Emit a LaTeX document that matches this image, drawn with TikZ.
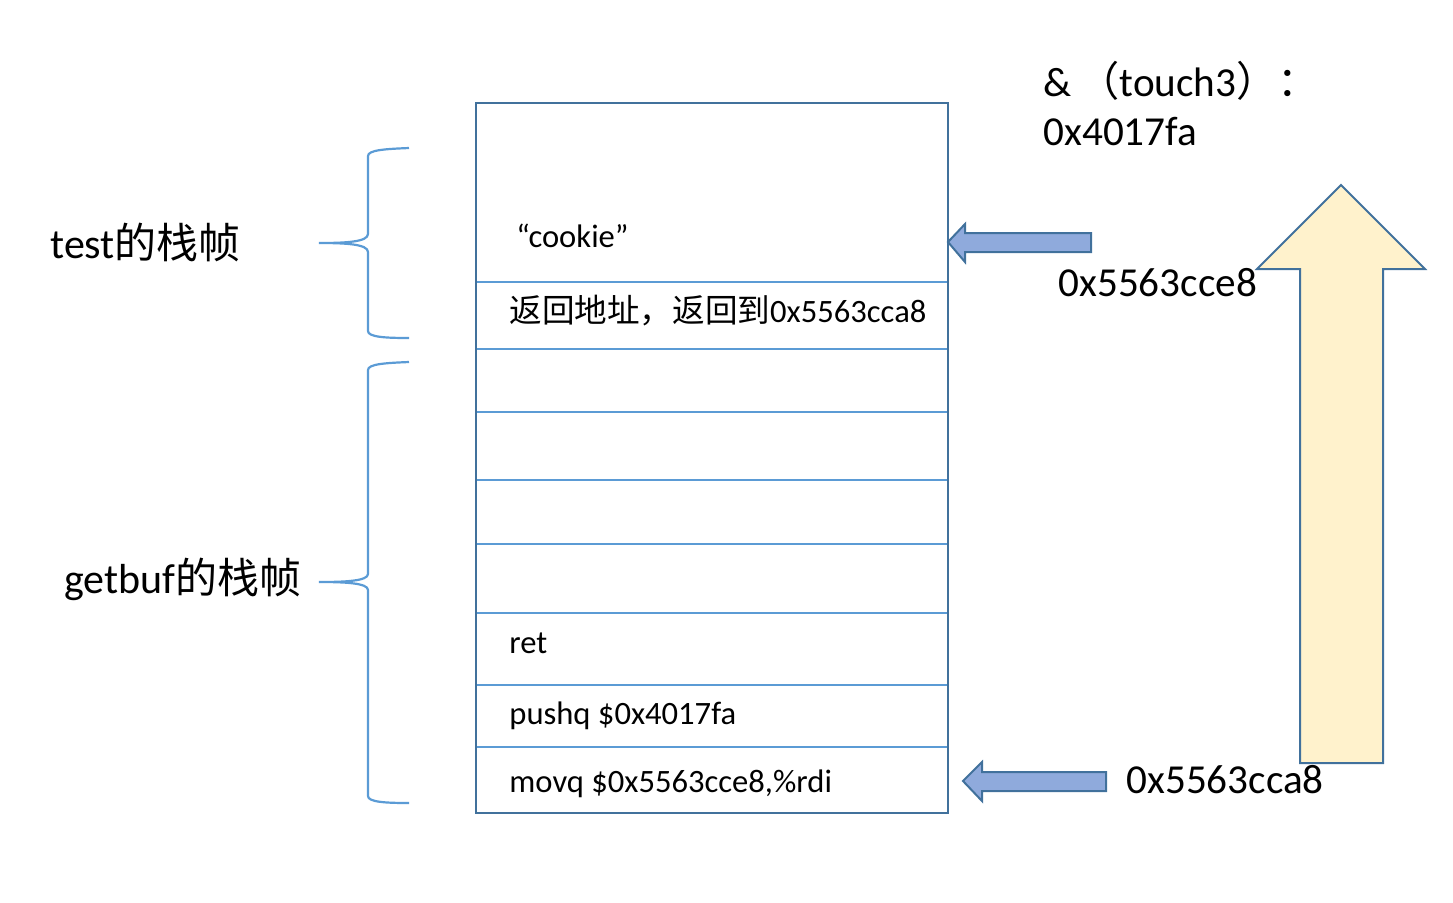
\documentclass[tikz,border=0pt]{standalone}
\usepackage{fontspec}
\setmainfont{Carlito}
\newfontfamily\cjk{Noto Sans CJK SC}
\definecolor{boxblue}{HTML}{41719C}
\definecolor{rowblue}{HTML}{5B9BD5}
\definecolor{arrfill}{HTML}{8FAADC}
\definecolor{bigfill}{HTML}{FFF2CC}
\tikzset{
  rowline/.style={draw=rowblue, line width=1pt},
  stackbox/.style={draw=boxblue, line width=1.1pt},
  bracestyle/.style={draw=rowblue, line width=1.1pt},
  blockarrow/.style={draw=boxblue, line width=1pt, fill=arrfill, line join=miter},
  bigarrow/.style={draw=boxblue, line width=1pt, fill=bigfill, line join=miter},
  celltext/.style={anchor=base west, inner sep=0pt, font=\fontsize{16.3}{19}\selectfont},
  bigtext/.style={anchor=base west, inner sep=0pt, font=\fontsize{20.6}{24}\selectfont},
  sidetext/.style={anchor=base west, inner sep=0pt, font=\fontsize{21}{25}\selectfont}
}
\begin{document}
\begin{tikzpicture}[x=0.5pt,y=-0.5pt]
\useasboundingbox (0,0) rectangle (1453,902);
% rows
\foreach \yy in {282,349,412,480,544,613,685,747}
  \draw[rowline] (476,\yy) -- (948,\yy);
\draw[stackbox] (476,103) rectangle (948,813);
% cell texts
\node[celltext] (cookie) at (516,247) {“cookie”};
\node[celltext] (retaddr) at (509,322) {{\cjk 返回地址，返回到}0x5563cca8};
\node[celltext] (ret) at (509,653) {ret};
\node[celltext] (pushq) at (509,724) {pushq \$0x4017fa};
\node[celltext] (movq) at (509,792) {movq \$0x5563cce8,\%rdi};
% braces
\draw[bracestyle] (409,148) .. controls (385,149) and (368,150) .. (368,156)
  -- (368,234) .. controls (368,242) and (345,243) .. (319,243)
  .. controls (345,243) and (368,244) .. (368,252)
  -- (368,331) .. controls (368,337) and (385,338) .. (409,338);
\draw[bracestyle] (409,362) .. controls (385,363) and (368,364) .. (368,370)
  -- (368,574) .. controls (368,581) and (345,582) .. (319,582)
  .. controls (345,582) and (368,583) .. (368,590)
  -- (368,796) .. controls (368,802) and (385,803) .. (409,803);
\node[sidetext] (testlbl) at (50,258) {test{\cjk 的栈帧}};
\node[sidetext] (getbuflbl) at (64,593) {getbuf{\cjk 的栈帧}};
% small arrows
\draw[blockarrow] (948,242) -- (965,224) -- (965,233) -- (1091,233) -- (1091,252) -- (965,252) -- (965,262) -- cycle;
\draw[blockarrow] (963,781) -- (982,762) -- (982,772) -- (1106,772) -- (1106,791) -- (982,791) -- (982,801) -- cycle;
% big arrow
\draw[bigarrow] (1341,185) -- (1425,269) -- (1383,269) -- (1383,763) -- (1300,763) -- (1300,269) -- (1257,269) -- cycle;
% right texts
\node[bigtext] (touch) at (1043,96) {\&\,{\cjk （}touch3{\cjk ）：}};
\node[bigtext] (addr) at (1043,145) {0x4017fa};
\node[bigtext] (cce8) at (1058,296) {0x5563cce8};
\node[bigtext] (cca8) at (1126,793) {0x5563cca8};
\end{tikzpicture}
\end{document}
